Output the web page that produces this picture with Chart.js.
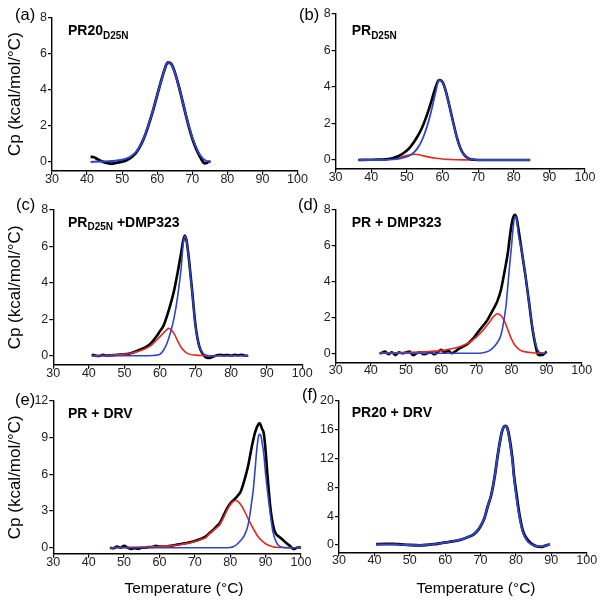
<!DOCTYPE html>
<html>
<head>
<meta charset="utf-8">
<script src="https://cdn.jsdelivr.net/npm/chart.js@4.4.1/dist/chart.umd.min.js"></script>
<style>
html,body{margin:0;padding:0;background:#fff;}
#wrap{position:relative;width:602px;height:605px;overflow:hidden;}
#wrap canvas{position:absolute;left:0;top:0;}
</style>
</head>
<body>
<div id="wrap">
<canvas id="pa" width="602" height="605"></canvas>
<canvas id="pb" width="602" height="605"></canvas>
<canvas id="pc" width="602" height="605"></canvas>
<canvas id="pd" width="602" height="605"></canvas>
<canvas id="pe" width="602" height="605"></canvas>
<canvas id="pf" width="602" height="605"></canvas>
</div>
<script>
// values: [temperature °C, Cp kcal/mol/°C]
const aData = [[41,0.28],[42,0.26],[43,0.15],[44,0.05],[45,-0.02],[46,-0.07],[47,-0.1],[48,-0.06],[49,-0.02],[50,0.02],[51,0.07],[52,0.17],[53,0.32],[54,0.52],[55,0.82],[56,1.22],[57,1.72],[58,2.33],[59,2.98],[60,3.7],[61,4.4],[62,5.05],[63,5.5],[64,5.42],[65,4.97],[66,4.3],[67,3.53],[68,2.72],[69,1.96],[70,1.3],[71,0.78],[72,0.36],[73,0.02],[73.5,-0.08],[74,-0.06],[74.5,0],[75.2,0.02]];
const aFit = [[41,0],[44,0.02],[47,0.05],[50,0.12],[52,0.25],[53,0.38],[54,0.56],[55,0.85],[56,1.25],[57,1.75],[58,2.35],[59,3.0],[60,3.7],[61,4.4],[62,5.05],[63,5.5],[64,5.4],[65,4.95],[66,4.3],[67,3.55],[68,2.75],[69,2.0],[70,1.35],[71,0.85],[72,0.45],[73,0.2],[74,0.06],[75.2,0]];

const bData = [[36.3,0],[40,0.01],[42,0.02],[44,0.04],[46,0.1],[48,0.25],[49,0.37],[50,0.52],[51,0.72],[52,0.98],[53,1.3],[54,1.66],[55,2.12],[56,2.68],[57,3.3],[58,3.95],[59,4.38],[60,4.28],[61,3.72],[62,2.92],[63,2.07],[64,1.27],[65,0.66],[66,0.3],[67,0.12],[68,0.04],[70,0],[84.6,0]];
const bFit = [[36.3,0],[40,0],[44,0.01],[46,0.03],[48,0.08],[50,0.18],[51,0.27],[52,0.42],[53,0.65],[54,0.98],[55,1.45],[56,2.05],[57,2.8],[58,3.65],[59,4.38],[60,4.25],[61,3.7],[62,2.9],[63,2.05],[64,1.25],[65,0.65],[66,0.3],[67,0.12],[68,0.04],[70,0],[84.6,0]];
const bPeak1 = [[36.3,0],[42,0.01],[44,0.03],[46,0.07],[48,0.15],[50,0.25],[51,0.29],[52,0.31],[53,0.3],[54,0.26],[55,0.21],[56,0.17],[58,0.09],[60,0.05],[62,0.03],[64,0.015],[66,0.005],[68,0],[84.6,0]];

const cData = [[40.8,0.05],[42,0],[43,-0.02],[44,0.05],[45,0.01],[46,0.02],[47,0.03],[48,0.05],[50,0.08],[52,0.15],[53,0.22],[54,0.3],[55,0.38],[56,0.47],[57,0.6],[58,0.8],[59,1.05],[60,1.35],[61,1.65],[62,2.2],[63,2.85],[64,3.6],[65,4.6],[66,5.7],[66.5,6.3],[67,6.6],[67.5,6.3],[68,5.55],[69,3.65],[70,1.65],[71,0.55],[72,0.1],[73,-0.1],[74,-0.13],[75,-0.05],[76,0.02],[77,0.05],[78,0.02],[79,0.04],[80,0.01],[81,0.05],[82,0.02],[83,0.05],[84,0],[84.8,0]];
const cFit = [[40.8,0],[55,0],[58,0.01],[59,0.03],[60,0.08],[61,0.3],[62,0.7],[63,1.3],[64,2.1],[65,3.3],[66,4.9],[66.5,6.1],[67,6.55],[67.5,6.3],[68,5.5],[69,3.6],[70,1.6],[71,0.55],[72,0.15],[73,0.03],[74,0],[84.8,0]];
const cPeak1 = [[40.8,0],[45,0.02],[48,0.05],[50,0.08],[52,0.15],[54,0.25],[56,0.4],[57,0.5],[58,0.65],[59,0.85],[60,1.05],[61,1.25],[62,1.45],[62.5,1.5],[63,1.45],[64,1.2],[65,0.8],[66,0.45],[67,0.22],[68,0.1],[70,0.03],[72,0.01],[74,0],[84.8,0]];

const dData = [[42.5,0],[43,0.02],[44,0.1],[45,-0.05],[46,0.05],[47,-0.1],[48,0.05],[49,0],[50,0.05],[51,0.1],[52,-0.1],[53,0],[54,0.05],[55,-0.05],[56,0],[57,0.05],[58,-0.05],[59,0.05],[60,0.2],[61,0.05],[62,0.15],[63,0],[64,0.1],[65,0.25],[66,0.35],[67,0.45],[68,0.6],[69,0.8],[70,1.05],[71,1.3],[72,1.55],[73,1.8],[74,2.15],[75,2.5],[76,2.9],[77,3.5],[78,4.5],[79,5.6],[79.5,6.4],[80,7.1],[80.5,7.55],[81,7.7],[81.5,7.5],[82,6.9],[83,5.6],[84,4.3],[85,2.85],[86,1.35],[87,0.3],[87.5,-0.05],[88,-0.1],[89,-0.08],[90,0.1]];
const dFit = [[42.5,0],[70,0],[72,0.03],[73,0.08],[74,0.18],[75,0.35],[76,0.6],[77,1.0],[78,2.0],[78.5,2.7],[79,3.8],[79.5,4.9],[80,5.9],[80.5,7.0],[81,7.6],[81.5,7.45],[82,6.6],[83,5.6],[84,4.3],[85,2.8],[86,1.4],[87,0.45],[88,0.05],[89,0],[90,0]];
const dPeak1 = [[42.5,0.01],[46,0.02],[50,0.04],[55,0.08],[60,0.15],[63,0.25],[65,0.35],[67,0.5],[68,0.6],[70,0.9],[72,1.3],[73,1.55],[74,1.8],[75,2.05],[76,2.2],[77,2.1],[78,1.8],[79,1.3],[80,0.8],[81,0.45],[82,0.25],[83,0.13],[84,0.08],[86,0.03],[88,0.01],[90,0]];

const eData = [[46,0],[47,-0.05],[48,0.1],[49,0],[50,0.15],[51,0],[52,-0.1],[53,-0.05],[54,-0.1],[55,0],[56,0],[57,0.05],[58,0.05],[59,0.15],[60,0.1],[61,0.1],[62,0.1],[63,0.15],[64,0.2],[65,0.25],[66,0.3],[67,0.35],[68,0.4],[70,0.55],[72,0.75],[73,0.9],[74,1.15],[75,1.4],[76,1.7],[77,2.0],[78,2.55],[79,3.15],[80,3.6],[81,3.9],[82,4.2],[83,4.6],[84,5.5],[85,6.6],[86,8.1],[87,9.4],[88,10.1],[88.3,10.15],[89,9.7],[89.5,9.3],[90,7.9],[90.5,6.0],[91,4.3],[91.5,2.9],[92,2.0],[92.5,1.4],[93,1.1],[94,0.85],[95,0.6],[96,0.35],[97,0.12],[97.5,-0.05],[98,-0.12],[98.5,-0.05],[99,0.02],[100,0]];
const eFit = [[46,0],[78,0],[80,0.02],[81,0.1],[82,0.3],[83,0.6],[84,1.0],[85,1.8],[85.5,2.6],[86,3.6],[86.5,4.7],[87,6.3],[87.5,8.0],[88,9.1],[88.3,9.25],[88.7,9.1],[89,8.6],[89.5,7.6],[90,6.0],[91,3.5],[92,1.4],[93,0.45],[94,0.1],[95,0.02],[96,0],[100,0]];
const ePeak1 = [[46,0],[50,0.02],[55,0.05],[60,0.1],[63,0.15],[65,0.22],[68,0.35],[70,0.5],[72,0.7],[73,0.8],[74,1.1],[75,1.35],[76,1.6],[77,1.85],[78,2.4],[79,3.0],[80,3.5],[81,3.8],[81.6,3.85],[82,3.82],[83,3.5],[84,3.0],[85,2.4],[86,1.85],[87,1.3],[88,0.85],[89,0.55],[90,0.32],[91,0.17],[92,0.08],[93,0.03],[95,0.01],[97,0]];

const fData = [[40.5,0.1],[43,0.15],[45,0.15],[47,0.1],[50,0],[53,-0.05],[55,0.02],[57,0.12],[58.5,0.23],[60,0.35],[62,0.5],[64,0.68],[66,1.0],[67,1.2],[68,1.45],[69,1.9],[70,2.6],[71,3.6],[72,5.3],[73,6.9],[74,9.5],[75,12.9],[76,15.6],[76.5,16.3],[77,16.5],[77.5,16.3],[78,15.3],[79,12.0],[79.5,9.4],[80,7.6],[81,4.2],[82,1.9],[83,0.95],[84,0.35],[85,0],[86,-0.2],[87,-0.25],[88,-0.15],[89,0],[89.6,0.1]];
const fFit = [[40.5,0.05],[43,0.08],[45,0.08],[47,0.05],[50,0],[53,-0.02],[55,0.03],[57,0.12],[58.5,0.22],[60,0.33],[62,0.5],[64,0.7],[66,1.0],[67,1.22],[68,1.5],[69,1.95],[70,2.65],[71,3.65],[72,5.3],[73,6.95],[74,9.5],[75,12.9],[76,15.6],[76.5,16.3],[77,16.5],[77.5,16.25],[78,15.1],[79,11.7],[79.5,9.1],[80,7.1],[81,3.9],[82,1.7],[83,0.7],[84,0.2],[85,-0.05],[86,-0.15],[87,-0.2],[88,-0.1],[89,0],[89.6,0.05]];

const xTicks = [30, 40, 50, 60, 70, 80, 90, 100];
const yTicks8 = [0, 2, 4, 6, 8];
const yTicks12 = [0, 3, 6, 9, 12];
const yTicks20 = [0, 4, 8, 12, 16, 20];

const FONT = '"Liberation Sans", Arial, Helvetica, sans-serif';
const BLUE = '#3044c8';
const RED = '#e2281f';

// panel letter, bold title (with subscript parts marked by "_") and x title
const panelText = {
  id: 'panelText',
  afterDraw(chart, args, o) {
    const ctx = chart.ctx;
    ctx.save();
    ctx.fillStyle = '#000';
    ctx.textBaseline = 'alphabetic';
    ctx.textAlign = 'left';
    ctx.font = '16.5px ' + FONT;
    ctx.fillText(o.label, o.labelX, o.labelY);
    let x = o.titleX;
    o.title.forEach(part => {
      const sub = part[0] === '_';
      const txt = sub ? part.slice(1) : part;
      ctx.font = 'bold ' + (sub ? '10px ' : '14px ') + FONT;
      ctx.fillText(txt, x, o.titleY + (sub ? 3.5 : 0));
      x += ctx.measureText(txt).width;
    });
    if (o.xTitle) {
      ctx.font = '15.5px ' + FONT;
      ctx.textAlign = 'center';
      ctx.fillText(o.xTitle, o.xTitleX, o.xTitleY);
    }
    ctx.restore();
  }
};

function line(points, color, width, order) {
  return {
    data: points.map(p => ({x: p[0], y: p[1]})),
    borderColor: color,
    borderWidth: width,
    pointRadius: 0,
    fill: false,
    cubicInterpolationMode: 'monotone',
    order: order
  };
}

function panel(id, box, ymin, ymax, yTicks, datasets, text, yTitle) {
  new Chart(document.getElementById(id), {
    type: 'line',
    data: {datasets: datasets},
    plugins: [panelText],
    options: {
      responsive: false,
      animation: false,
      events: [],
      layout: {autoPadding: false, padding: {top: box.t, right: 602 - box.r, left: 0, bottom: 0}},
      plugins: {legend: {display: false}, tooltip: {enabled: false}, panelText: text},
      scales: {
        x: {
          type: 'linear', min: 30, max: 100,
          afterBuildTicks: s => { s.ticks = xTicks.map(v => ({value: v})); },
          afterFit: s => { s.height = 605 - box.b; },
          border: {display: true, color: '#000', width: 1.4},
          grid: {drawOnChartArea: false, drawTicks: true, tickLength: 4, color: '#000', lineWidth: 1.2},
          ticks: {font: {family: FONT, size: 12.5}, color: '#222', padding: -3, maxRotation: 0, autoSkip: false}
        },
        y: {
          type: 'linear', min: ymin, max: ymax,
          afterBuildTicks: s => { s.ticks = yTicks.map(v => ({value: v})); },
          afterFit: s => { s.width = box.l; },
          border: {display: true, color: '#000', width: 1.4},
          grid: {drawOnChartArea: false, drawTicks: true, tickLength: 4, color: '#000', lineWidth: 1.2},
          ticks: {font: {family: FONT, size: 12.5}, color: '#222', padding: 1},
          title: {display: !!yTitle, text: 'Cp (kcal/mol/°C)', color: '#000', font: {family: FONT, size: 17}, padding: {top: 5, bottom: 0}}
        }
      }
    }
  });
}

panel('pa', {l: 52, r: 297.5, t: 17.3, b: 171}, -0.5, 8, yTicks8,
  [line(aFit, BLUE, 2, 1), line(aData, '#000', 2.8, 2)],
  {label: '(a)', labelX: 15, labelY: 20, title: ['PR20', '_D25N'], titleX: 68, titleY: 35}, true);

panel('pb', {l: 335.6, r: 585, t: 14, b: 169.1}, -0.5, 8, yTicks8,
  [line(bFit, BLUE, 1.8, 1), line(bPeak1, RED, 1.6, 3), line(bData, '#000', 2.6, 2)],
  {label: '(b)', labelX: 299, labelY: 19.5, title: ['PR', '_D25N'], titleX: 351.7, titleY: 35}, false);

panel('pc', {l: 53.3, r: 302.2, t: 210, b: 364.8}, -0.5, 8, yTicks8,
  [line(cFit, BLUE, 1.6, 1), line(cPeak1, RED, 1.6, 2), line(cData, '#000', 2.6, 3)],
  {label: '(c)', labelX: 16, labelY: 209.5, title: ['PR', '_D25N', ' +DMP323'], titleX: 68, titleY: 226.7}, true);

panel('pd', {l: 335.7, r: 581.7, t: 209.3, b: 362.3}, -0.5, 8, yTicks8,
  [line(dFit, BLUE, 1.6, 1), line(dPeak1, RED, 1.6, 2), line(dData, '#000', 2.6, 3)],
  {label: '(d)', labelX: 298, labelY: 210, title: ['PR + DMP323'], titleX: 351.7, titleY: 226.7}, false);

panel('pe', {l: 53.3, r: 301, t: 400.7, b: 553.8}, -0.5, 12, yTicks12,
  [line(eFit, BLUE, 1.6, 1), line(ePeak1, RED, 1.6, 2), line(eData, '#000', 2.6, 3)],
  {label: '(e)', labelX: 15, labelY: 404.5, title: ['PR + DRV'], titleX: 68, titleY: 418.3,
   xTitle: 'Temperature (°C)', xTitleX: 184, xTitleY: 593}, true);

panel('pf', {l: 339, r: 586.7, t: 400.7, b: 552.2}, -1, 20, yTicks20,
  [line(fFit, BLUE, 2, 1), line(fData, '#000', 2.8, 2)],
  {label: '(f)', labelX: 302, labelY: 400, title: ['PR20 + DRV'], titleX: 351.7, titleY: 417.3,
   xTitle: 'Temperature (°C)', xTitleX: 476, xTitleY: 593}, false);
</script>
</body>
</html>
